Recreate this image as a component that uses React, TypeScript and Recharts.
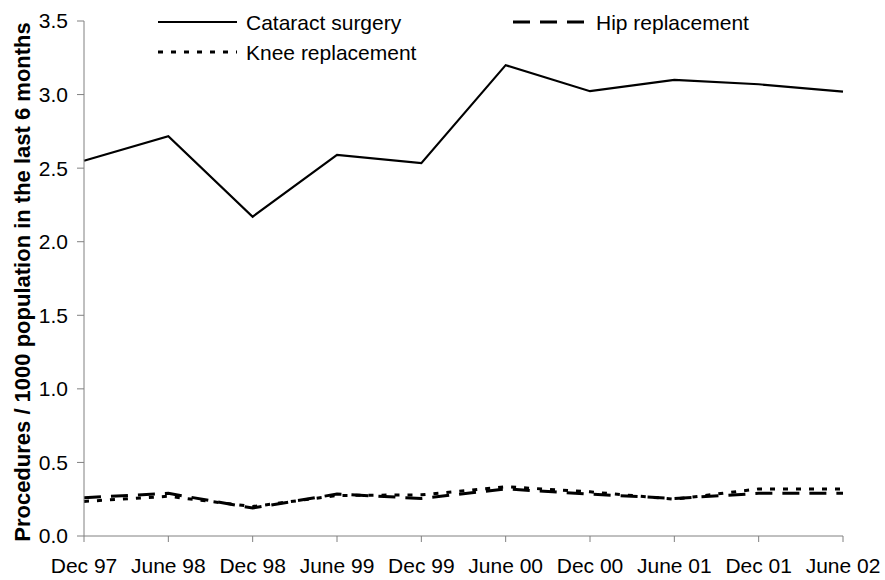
import { LineChart, Line, XAxis, YAxis, Legend } from 'recharts';

const periods = ['Dec 97', 'June 98', 'Dec 98', 'June 99', 'Dec 99', 'June 00', 'Dec 00', 'June 01', 'Dec 01', 'June 02'];
const cataract = [2.55, 2.717, 2.17, 2.59, 2.534, 3.2, 3.023, 3.1, 3.07, 3.02];
const hip = [0.26, 0.29, 0.19, 0.285, 0.255, 0.32, 0.285, 0.255, 0.29, 0.29];
const knee = [0.235, 0.27, 0.2, 0.275, 0.28, 0.335, 0.3, 0.25, 0.32, 0.32];
const yTicks = [0, 0.5, 1, 1.5, 2, 2.5, 3, 3.5];

const data = periods.map((p, i) => ({
  period: p,
  cataract: cataract[i],
  hip: hip[i],
  knee: knee[i],
}));

const FONT = '"Liberation Sans", Arial, sans-serif';
const HIP_DASH = '17 10';
const KNEE_DASH = '5 8';

// legend laid out like the original: two on the first row, one below
const legendItems = [
  { label: 'Cataract surgery', dash: undefined, x: 158, len: 79, y: 22 },
  { label: 'Hip replacement', dash: HIP_DASH, x: 513, len: 74, y: 22 },
  { label: 'Knee replacement', dash: KNEE_DASH, x: 158, len: 79, y: 52 },
];

const ChartLegend = () => (
  <svg width={885} height={70} style={{ display: 'block' }}>
    {legendItems.map((it) => (
      <g key={it.label}>
        <line x1={it.x} x2={it.x + it.len} y1={it.y} y2={it.y} stroke="#000" strokeWidth={it.dash ? 3 : 2} strokeDasharray={it.dash} />
        <text x={it.x + it.len + 9} y={it.y} dominantBaseline="central" fontSize={21} fontFamily={FONT} fill="#000">
          {it.label}
        </text>
      </g>
    ))}
  </svg>
);

const YTitle = () => (
  <text
    x={22}
    y={282}
    transform="rotate(-90, 22, 282)"
    textAnchor="middle"
    dominantBaseline="central"
    fontSize={22}
    fontWeight="bold"
    fontFamily={FONT}
    fill="#000"
  >
    Procedures / 1000 population in the last 6 months
  </text>
);

export default function App() {
  return (
    <div style={{ position: 'absolute', left: 0, top: 0, background: '#fff' }}>
      <LineChart width={885} height={580} data={data} margin={{ top: 21, right: 42, left: 0, bottom: 0 }}>
        <XAxis
          dataKey="period"
          interval={0}
          height={44}
          stroke="#808080"
          tickSize={6}
          tickMargin={16}
          tick={{ fontSize: 21, fill: '#000', fontFamily: FONT }}
        />
        <YAxis
          domain={[0, 3.5]}
          ticks={yTicks}
          width={84}
          stroke="#808080"
          tickSize={7}
          tickMargin={9}
          tickFormatter={(v: number) => v.toFixed(1)}
          tick={{ fontSize: 21, fill: '#000', fontFamily: FONT }}
          label={<YTitle />}
        />
        <Legend
          layout="vertical"
          align="center"
          verticalAlign="middle"
          wrapperStyle={{ position: 'absolute', top: 0, left: 0, width: 885, height: 70 }}
          content={<ChartLegend />}
        />
        <Line dataKey="cataract" stroke="#000" strokeWidth={2.2} dot={false} isAnimationActive={false} />
        <Line dataKey="hip" stroke="#000" strokeWidth={3} strokeDasharray={HIP_DASH} dot={false} isAnimationActive={false} />
        <Line dataKey="knee" stroke="#000" strokeWidth={3} strokeDasharray={KNEE_DASH} dot={false} isAnimationActive={false} />
      </LineChart>
    </div>
  );
}
